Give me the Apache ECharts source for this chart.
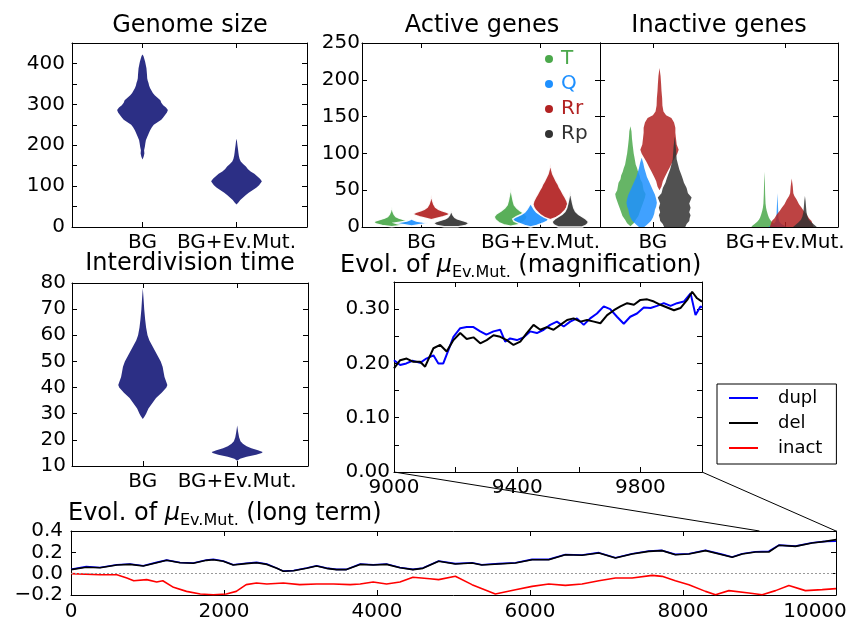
<!DOCTYPE html>
<html>
<head>
<meta charset="utf-8">
<script src="https://cdn.jsdelivr.net/npm/echarts@6/dist/echarts.min.js"></script>
<style>
html,body{margin:0;padding:0;background:#fff}
#main{width:852px;height:622px}
</style>
</head>
<body>
<div id="main"></div>
<script>
var FONT = 'DejaVu Sans';

// categories / names
var cats = ['BG', 'BG+Ev.Mut.'];
var geneNames = ['T', 'Q', 'Rr', 'Rp'];
var geneColors = ['#4ba84b', '#1e90ff', '#b22222', '#333333'];
var lineNames = ['dupl', 'del', 'inact'];
var lineColors = ['#0000ff', '#000000', '#ff0000'];

// violin profiles: [value, half width]
var genomeBG = [[165,0],[172,0.012],[180,0.02],[188,0.017],[196,0.025],[204,0.03],[212,0.036],[220,0.05],[228,0.065],[236,0.08],[244,0.1],[250,0.12],[256,0.16],[262,0.2],[268,0.22],[274,0.24],[280,0.26],[286,0.27],[292,0.25],[298,0.22],[304,0.2],[310,0.19],[316,0.16],[322,0.13],[328,0.11],[334,0.095],[340,0.08],[346,0.07],[352,0.064],[358,0.055],[364,0.05],[372,0.048],[380,0.045],[388,0.042],[396,0.035],[404,0.028],[412,0.018],[418,0.01],[422,0]];
var genomeEv = [[55,0],[60,0.02],[66,0.04],[72,0.07],[78,0.1],[84,0.13],[90,0.17],[96,0.21],[102,0.24],[108,0.26],[112,0.27],[118,0.25],[124,0.22],[130,0.19],[136,0.15],[142,0.12],[148,0.1],[154,0.07],[160,0.045],[166,0.033],[174,0.025],[182,0.02],[190,0.016],[200,0.01],[210,0.005],[216,0]];

var interBG = [[28,0],[29,0.02],[30,0.035],[32,0.06],[34,0.1],[36,0.14],[38,0.2],[40,0.25],[41,0.26],[42,0.25],[44,0.23],[46,0.22],[48,0.21],[50,0.19],[52,0.16],[54,0.13],[56,0.1],[58,0.07],[60,0.05],[63,0.035],[66,0.025],[70,0.015],[74,0.008],[78,0]];
var interEv = [[12,0],[12.8,0.03],[13.5,0.1],[14.3,0.2],[15,0.26],[15.4,0.27],[16,0.22],[16.8,0.15],[17.6,0.1],[18.5,0.06],[19.5,0.035],[21,0.02],[23,0.01],[25.5,0]];

var actBG_T = [[0.5,0],[2,0.08],[4,0.13],[6,0.15],[8,0.14],[10,0.1],[12,0.06],[14,0.035],[17,0.02],[21,0.01],[28,0]];
var actBG_Q = [[1.5,0],[3,0.06],[4.5,0.12],[5.5,0.14],[6.5,0.1],[8,0.04],[10,0.01],[11,0]];
var actBG_Rr = [[10,0],[12,0.05],[14,0.1],[16,0.14],[18,0.155],[20,0.13],[22,0.09],[24,0.06],[27,0.035],[31,0.02],[36,0.01],[44,0]];
var actBG_Rp = [[0.5,0.06],[2,0.12],[5,0.15],[7,0.13],[9,0.09],[11,0.05],[13,0.03],[16,0.015],[22,0]];
var actEv_T = [[1,0],[3,0.06],[6,0.1],[10,0.13],[14,0.14],[18,0.12],[22,0.08],[26,0.05],[30,0.03],[36,0.02],[44,0.01],[53,0]];
var actEv_Q = [[0,0],[2,0.05],[5,0.1],[8,0.14],[11,0.15],[14,0.12],[17,0.08],[20,0.05],[24,0.03],[28,0.015],[32,0]];
var actEv_Rr = [[10,0],[13,0.05],[16,0.08],[19,0.1],[23,0.125],[27,0.14],[31,0.147],[35,0.14],[40,0.125],[44,0.11],[50,0.09],[54,0.075],[58,0.065],[62,0.05],[67,0.035],[72,0.02],[78,0.01],[86,0]];
var actEv_Rp = [[0,0.1],[2,0.13],[5,0.15],[8,0.15],[11,0.13],[14,0.1],[17,0.07],[21,0.045],[26,0.03],[32,0.02],[40,0.01],[49,0]];

var inBG_T = [[1,0],[5,0.025],[10,0.04],[15,0.06],[20,0.07],[25,0.08],[30,0.09],[35,0.1],[40,0.11],[45,0.115],[50,0.1],[55,0.095],[60,0.09],[65,0.075],[70,0.07],[75,0.058],[80,0.05],[85,0.04],[90,0.035],[95,0.03],[100,0.025],[110,0.018],[120,0.012],[130,0.008],[137,0]];
var inBG_Q = [[0,0.02],[3,0.04],[8,0.07],[13,0.085],[18,0.095],[23,0.1],[28,0.11],[33,0.115],[38,0.11],[44,0.1],[50,0.085],[56,0.07],[62,0.055],[68,0.04],[74,0.03],[80,0.02],[87,0.012],[94,0]];
var inBG_Rr = [[50,0],[55,0.015],[62,0.025],[68,0.04],[75,0.06],[82,0.08],[89,0.1],[95,0.12],[100,0.135],[105,0.145],[112,0.13],[120,0.125],[128,0.12],[135,0.12],[142,0.11],[148,0.09],[152,0.05],[157,0.03],[165,0.022],[175,0.02],[185,0.015],[195,0.012],[205,0.008],[216,0]];
var inBG_Rp = [[0,0.08],[4,0.09],[8,0.11],[12,0.113],[16,0.12],[20,0.11],[26,0.12],[32,0.11],[40,0.128],[46,0.1],[53,0.09],[60,0.07],[66,0.06],[71,0.05],[78,0.035],[85,0.025],[92,0.015],[100,0.012],[110,0.008],[123,0]];
var inEv_T = [[0,0.1],[2,0.09],[4,0.075],[7,0.055],[10,0.042],[13,0.033],[17,0.025],[22,0.017],[26,0.012],[32,0.008],[45,0.005],[60,0.003],[75,0]];
var inEv_Q = [[0,0.07],[2,0.05],[4,0.03],[7,0.015],[12,0.008],[25,0.005],[46,0]];
var inEv_Rr = [[0,0.165],[3,0.16],[8,0.15],[12,0.13],[17,0.113],[22,0.09],[26,0.075],[31,0.055],[37,0.038],[42,0.02],[46,0.012],[55,0.008],[66,0]];
var inEv_Rp = [[0,0.09],[3,0.07],[6,0.05],[10,0.03],[14,0.02],[20,0.012],[28,0.008],[35,0.005],[42,0]];

var actOffsets = [-0.25, -0.083, 0.083, 0.25];
var inBGOffsets = [-0.17, -0.085, 0.05, 0.165];
var inEvOffsets = [-0.156, -0.058, 0.05, 0.15];

// mu_Ev.Mut. evolution, magnification
var magDupl = [[9000,0.206],[9020,0.197],[9040,0.2],[9060,0.205],[9085,0.201],[9105,0.209],[9128,0.215],[9144,0.2],[9160,0.2],[9177,0.225],[9193,0.249],[9215,0.265],[9236,0.267],[9258,0.267],[9280,0.259],[9300,0.253],[9323,0.259],[9345,0.262],[9361,0.24],[9377,0.246],[9399,0.243],[9421,0.248],[9442,0.259],[9464,0.256],[9486,0.262],[9507,0.271],[9529,0.277],[9551,0.268],[9572,0.277],[9594,0.283],[9616,0.271],[9637,0.283],[9659,0.292],[9681,0.305],[9702,0.3],[9724,0.286],[9746,0.273],[9767,0.286],[9789,0.292],[9811,0.303],[9833,0.302],[9854,0.306],[9876,0.311],[9898,0.306],[9919,0.311],[9941,0.314],[9963,0.329],[9979,0.289],[9995,0.305],[10000,0.303]];
var magDel = [[9000,0.191],[9020,0.206],[9041,0.209],[9063,0.203],[9085,0.203],[9101,0.194],[9128,0.228],[9150,0.234],[9171,0.222],[9193,0.243],[9215,0.256],[9236,0.245],[9258,0.248],[9280,0.237],[9301,0.243],[9323,0.252],[9345,0.249],[9366,0.243],[9388,0.234],[9410,0.24],[9431,0.256],[9453,0.271],[9475,0.262],[9496,0.267],[9518,0.262],[9540,0.271],[9562,0.28],[9583,0.283],[9605,0.277],[9627,0.28],[9649,0.277],[9670,0.274],[9692,0.289],[9714,0.298],[9735,0.305],[9757,0.311],[9779,0.308],[9800,0.317],[9822,0.318],[9844,0.314],[9865,0.308],[9887,0.303],[9909,0.298],[9930,0.302],[9952,0.317],[9968,0.332],[9984,0.32],[10000,0.314]];

// mu_Ev.Mut. evolution, long term
var ltDupl = [[0,0.04],[200,0.066],[380,0.058],[600,0.084],[770,0.09],[945,0.074],[1120,0.106],[1250,0.127],[1425,0.105],[1600,0.1],[1770,0.128],[1860,0.135],[1990,0.118],[2120,0.083],[2290,0.097],[2425,0.106],[2560,0.09],[2690,0.052],[2775,0.024],[2910,0.03],[3080,0.053],[3210,0.075],[3340,0.052],[3470,0.04],[3600,0.04],[3780,0.09],[3950,0.084],[4125,0.09],[4300,0.058],[4470,0.04],[4600,0.053],[4806,0.118],[5024,0.094],[5242,0.103],[5370,0.083],[5590,0.094],[5810,0.103],[6027,0.134],[6245,0.134],[6463,0.18],[6680,0.175],[6900,0.197],[7117,0.15],[7335,0.187],[7553,0.212],[7727,0.218],[7900,0.181],[8077,0.187],[8294,0.219],[8512,0.181],[8643,0.156],[8774,0.187],[8948,0.205],[9122,0.21],[9253,0.268],[9470,0.258],[9688,0.29],[9862,0.303],[10000,0.305]];
var ltDel = [[0,0.038],[200,0.06],[380,0.056],[600,0.081],[770,0.087],[945,0.072],[1120,0.103],[1250,0.125],[1425,0.103],[1600,0.097],[1770,0.125],[1860,0.131],[1990,0.116],[2120,0.081],[2290,0.094],[2425,0.103],[2560,0.087],[2690,0.05],[2775,0.022],[2910,0.028],[3080,0.05],[3210,0.072],[3340,0.05],[3470,0.038],[3600,0.038],[3780,0.087],[3950,0.081],[4125,0.087],[4300,0.056],[4470,0.038],[4600,0.05],[4806,0.116],[5024,0.091],[5242,0.1],[5370,0.081],[5590,0.091],[5810,0.1],[6027,0.131],[6245,0.131],[6463,0.178],[6680,0.172],[6900,0.194],[7117,0.147],[7335,0.184],[7553,0.209],[7727,0.216],[7900,0.178],[8077,0.184],[8294,0.216],[8512,0.178],[8643,0.153],[8774,0.184],[8948,0.203],[9122,0.203],[9253,0.266],[9470,0.256],[9688,0.287],[9862,0.303],[10000,0.319]];
var ltInact = [[0,0.0],[380,-0.01],[600,-0.01],[730,-0.04],[820,-0.066],[990,-0.056],[1120,-0.078],[1200,-0.066],[1340,-0.128],[1510,-0.166],[1690,-0.19],[1860,-0.197],[2030,-0.19],[2160,-0.166],[2290,-0.103],[2425,-0.088],[2560,-0.097],[2775,-0.088],[2990,-0.103],[3210,-0.097],[3430,-0.097],[3650,-0.103],[3780,-0.097],[3950,-0.078],[4125,-0.097],[4300,-0.078],[4470,-0.034],[4690,-0.047],[4806,-0.056],[5024,-0.025],[5242,-0.103],[5547,-0.19],[5810,-0.15],[6027,-0.119],[6245,-0.097],[6463,-0.11],[6680,-0.097],[6900,-0.066],[7117,-0.041],[7335,-0.041],[7597,-0.016],[7727,-0.025],[7900,-0.066],[8077,-0.103],[8294,-0.166],[8425,-0.197],[8600,-0.159],[8861,-0.181],[9035,-0.197],[9210,-0.159],[9384,-0.11],[9600,-0.159],[9820,-0.15],[10000,-0.14]];

var chart = echarts.init(document.getElementById('main'));

function tick(extra) {
    var t = {inside: true, length: 5, lineStyle: {color: '#000', width: 1}};
    for (var k in extra) t[k] = extra[k];
    return t;
}
function label(extra) {
    var l = {color: '#000', fontSize: 20, fontFamily: FONT, margin: 6};
    for (var k in extra) l[k] = extra[k];
    return l;
}

var grids = [
    {left: 72, top: 43, width: 235, height: 184},   // genome size
    {left: 362, top: 43, width: 238, height: 184},  // active genes
    {left: 600, top: 43, width: 238, height: 184},  // inactive genes
    {left: 72, top: 283, width: 236, height: 183},  // interdivision time
    {left: 394, top: 282, width: 308, height: 190}, // magnification
    {left: 71, top: 531, width: 765, height: 64}    // long term
];
grids.forEach(function (g) { g.outerBoundsMode = 'none'; g.containLabel = false; });

var xAxes = [], yAxes = [];
// each grid gets bottom/top x axes and left/right y axes (frame + inner ticks)
function addAxes(g, xo, yo) {
    function make(o, pos, showLabel) {
        var a = {
            type: 'value', gridIndex: g, position: pos,
            axisLine: {onZero: false, lineStyle: {color: '#000', width: 1}},
            splitLine: {show: false}
        };
        for (var k in o) a[k] = o[k];
        if (!showLabel) a.axisLabel = {show: false};
        return a;
    }
    xAxes.push(make(xo, 'bottom', true));
    xAxes.push(make(xo, 'top', false));
    yAxes.push(make(yo, 'left', yo.showLabel !== false));
    yAxes.push(make(yo, 'right', false));
}

function catX(min, max) {
    return {
        min: min, max: max,
        axisTick: tick({customValues: [0, 1]}),
        axisLabel: label({customValues: [0, 1], formatter: function (v) { return cats[v]; }})
    };
}

addAxes(0, catX(-0.75, 1.75), {
    min: 0, max: 450, interval: 50, axisTick: tick({}),
    axisLabel: label({margin: 7, formatter: function (v) { return v % 100 === 0 ? String(v) : ''; }})
});
addAxes(1, catX(-0.5, 1.5), {
    min: 0, max: 250, interval: 50, axisTick: tick({}), axisLabel: label({margin: 2})
});
addAxes(2, catX(-0.4, 1.4), {
    min: 0, max: 250, interval: 50, axisTick: tick({}), showLabel: false
});
addAxes(3, catX(-0.75, 1.75), {
    min: 10, max: 80, interval: 10, axisTick: tick({}), axisLabel: label({margin: 6})
});
addAxes(4, {
    min: 9000, max: 10000, interval: 200, axisTick: tick({}),
    axisLabel: label({formatter: function (v) { return (v - 9000) % 400 === 0 ? String(v) : ''; }})
}, {
    min: 0, max: 0.35, interval: 0.05, axisTick: tick({}),
    axisLabel: label({margin: 4, formatter: function (v) { return Math.round(v * 100) % 10 === 0 ? v.toFixed(2) : ''; }})
});
addAxes(5, {
    min: 0, max: 10000, interval: 2000, axisTick: tick({}),
    axisLabel: label({
        margin: 7,
        formatter: function (v) { return v === 10000 ? '{r|10000}' : String(v); },
        rich: {r: {fontSize: 20, fontFamily: FONT, color: '#000', padding: [0, 42, 0, 0]}}
    })
}, {
    min: -0.2, max: 0.4, interval: 0.2, axisTick: tick({}),
    axisLabel: label({margin: 8, formatter: function (v) { return (v < -1e-9 ? '\u2212' : '') + Math.abs(v).toFixed(1); }})
});

// violin drawn as polygon through the axis scales
function violin(name, axis, color, profs, offs, st) {
    return {
        type: 'custom', name: name, xAxisIndex: axis, yAxisIndex: axis,
        itemStyle: {color: color},
        silent: true,
        data: profs.map(function (p, i) { return [i, p[0][0]]; }),
        renderItem: function (params, api) {
            var prof = profs[params.dataIndex];
            var x0 = api.value(0) + offs[params.dataIndex];
            var pts = [];
            for (var i = 0; i < prof.length; i++) pts.push(api.coord([x0 + prof[i][1], prof[i][0]]));
            for (var k = prof.length - 1; k >= 0; k--) pts.push(api.coord([x0 - prof[k][1], prof[k][0]]));
            return {
                type: 'polygon', shape: {points: pts},
                style: {fill: color, opacity: st.opacity, stroke: st.stroke || null, lineWidth: st.lineWidth || 0}
            };
        }
    };
}

var series = [];
series.push(violin('genome', 0, '#2c2f85', [genomeBG, genomeEv], [0, 0], {opacity: 1}));
series.push(violin('interdiv', 6, '#2c2f85', [interBG, interEv], [0, 0], {opacity: 1}));

var actBG = [actBG_T, actBG_Q, actBG_Rr, actBG_Rp];
var actEv = [actEv_T, actEv_Q, actEv_Rr, actEv_Rp];
var inBG = [inBG_T, inBG_Q, inBG_Rr, inBG_Rp];
var inEv = [inEv_T, inEv_Q, inEv_Rr, inEv_Rp];
for (var i = 0; i < 4; i++) {
    series.push(violin(geneNames[i], 2, geneColors[i], [actBG[i], actEv[i]], [actOffsets[i], actOffsets[i]],
        {opacity: 0.92, stroke: '#fff', lineWidth: 1.5}));
    series.push(violin(geneNames[i], 4, geneColors[i], [inBG[i], inEv[i]], [inBGOffsets[i], inEvOffsets[i]],
        {opacity: 0.85}));
}

function line(name, axis, data, color, width) {
    return {
        type: 'line', name: name, xAxisIndex: axis, yAxisIndex: axis,
        data: data, showSymbol: false, symbol: 'none',
        lineStyle: {color: color, width: width}, itemStyle: {color: color},
        silent: true
    };
}
series.push(line('dupl', 8, magDupl, lineColors[0], 2));
series.push(line('del', 8, magDel, lineColors[1], 2));
series.push(line('dupl', 10, ltDupl, lineColors[0], 1.6));
series.push(line('del', 10, ltDel, lineColors[1], 1.6));
var inactSeries = line('inact', 10, ltInact, lineColors[2], 1.6);
inactSeries.markLine = {
    silent: true, symbol: 'none', label: {show: false},
    lineStyle: {type: [2, 2], color: '#999', width: 1},
    data: [{yAxis: 0}]
};
series.push(inactSeries);

chart.setOption({
    animation: false,
    backgroundColor: '#fff',
    grid: grids,
    xAxis: xAxes,
    yAxis: yAxes,
    legend: [{
        orient: 'vertical', left: 545, top: 49, padding: 0, itemGap: 5,
        itemWidth: 8, itemHeight: 8, selectedMode: false,
        icon: 'path://M10,0A10,10,0,1,1,10,20A10,10,0,1,1,10,0Z',
        itemStyle: {borderWidth: 0, opacity: 1},
        data: geneNames.map(function (n, i) {
            return {name: n, itemStyle: {color: geneColors[i], borderWidth: 0}, textStyle: {color: geneColors[i]}};
        }),
        textStyle: {fontSize: 20, fontFamily: FONT, padding: [0, 0, 0, 3]}
    }, {
        orient: 'vertical', left: 717, top: 384, padding: [5, 14, 7, 12], itemGap: 7,
        borderColor: '#000', borderWidth: 1, backgroundColor: '#fff',
        icon: 'rect', itemWidth: 29, itemHeight: 2, selectedMode: false,
        data: lineNames,
        textStyle: {fontSize: 18, fontFamily: FONT, color: '#000', padding: [0, 0, 0, 15]}
    }],
    series: series
});

// titles and zoom connectors
var rich = {
    mu: {fontSize: 24, fontFamily: FONT, fontStyle: 'italic', color: '#000'},
    sub: {fontSize: 16, fontFamily: FONT, color: '#000', padding: [14, 0, 0, 0]}
};
function title(text, x, y, align) {
    return {
        type: 'text', x: x, y: y, silent: true,
        style: {text: text, fontSize: 24, fontFamily: FONT, fill: '#000', align: align || 'center', verticalAlign: 'middle', rich: rich}
    };
}
var a = chart.convertToPixel({xAxisIndex: 8, yAxisIndex: 8}, [9000, 0]);
var b = chart.convertToPixel({xAxisIndex: 10, yAxisIndex: 10}, [9000, 0.4]);
var c = chart.convertToPixel({xAxisIndex: 8, yAxisIndex: 8}, [10000, 0]);
var d = chart.convertToPixel({xAxisIndex: 10, yAxisIndex: 10}, [10000, 0.4]);

chart.setOption({
    graphic: [
        title('Genome size', 190, 26),
        title('Active genes', 482, 26),
        title('Inactive genes', 719, 26),
        title('Interdivision time', 190, 264),
        title('Evol. of {mu|\u03bc}{sub|Ev.Mut.} (magnification)', 340, 266, 'left'),
        title('Evol. of {mu|\u03bc}{sub|Ev.Mut.} (long term)', 68, 514, 'left'),
        {type: 'line', silent: true, shape: {x1: a[0], y1: a[1], x2: b[0], y2: b[1]}, style: {stroke: '#000', lineWidth: 1}},
        {type: 'line', silent: true, shape: {x1: c[0], y1: c[1], x2: d[0], y2: d[1]}, style: {stroke: '#000', lineWidth: 1}}
    ]
});
</script>
</body>
</html>
